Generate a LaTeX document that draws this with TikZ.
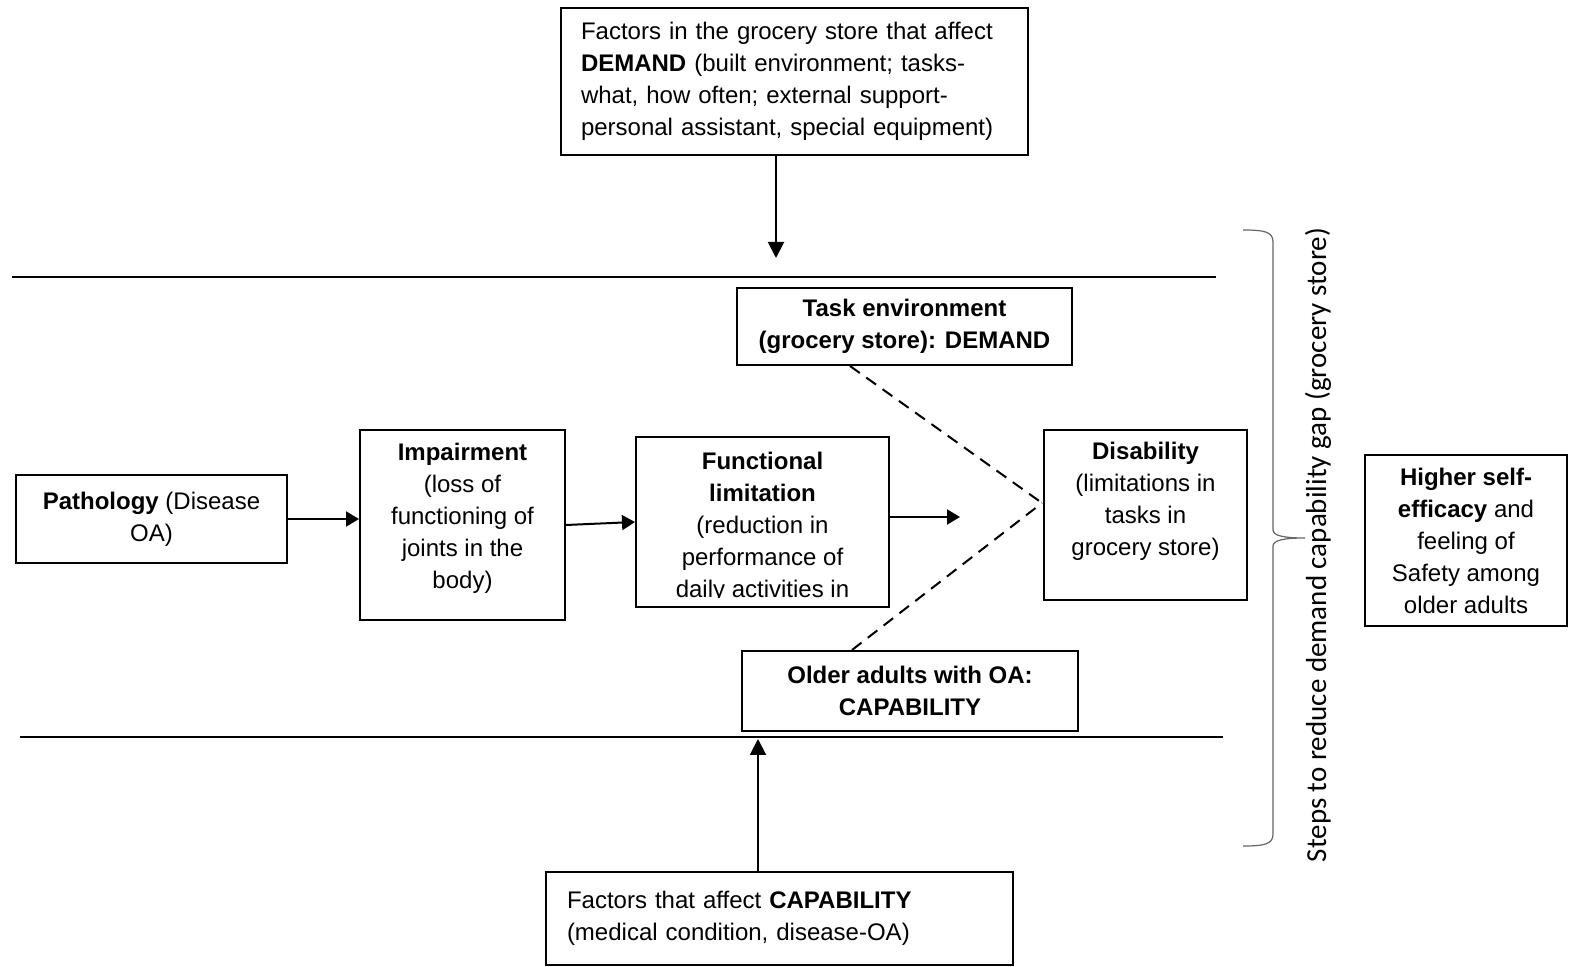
\documentclass[tikz,border=0pt]{standalone}
\usepackage{fontspec}
\setmainfont{Liberation Sans}
\newfontfamily\bracefont{Carlito}
\usetikzlibrary{arrows.meta}
\tikzset{
    stagenode/.style = {
        rectangle,
        draw=black,
        line width=1pt,
        align=center,
        inner sep=0pt,
        font=\fontsize{12}{16}\selectfont
    },
    factornode/.style = {
        stagenode,
        align=left,
        inner xsep=10pt
    },
    flowarrow/.style = {
        -{Triangle[length=6.5pt,width=7.5pt]},
        line width=1pt
    },
    bigflowarrow/.style = {
        -{Triangle[length=8pt,width=8pt]},
        line width=1pt
    },
    linkline/.style = {
        dashed,
        dash pattern=on 6pt off 4pt,
        line width=1pt
    },
    bandline/.style = {
        line width=1pt
    },
    stepsbrace/.style = {
        draw=black!60,
        line width=0.6pt
    }
}

\begin{document}
\begin{tikzpicture}[x=0.5pt, y=-0.5pt]
    \useasboundingbox (0,0) rectangle (1570,967);
    \node [factornode, text width=213.5pt, minimum height=73.5pt] (demandfac) at (794.5,81.5)
        {Factors in the grocery store that affect\\\textbf{DEMAND} (built environment; tasks-\\what, how often; external support-\\personal assistant, special equipment)};
    \node [stagenode, minimum width=167.5pt, minimum height=38.5pt] (taskenv) at (904.5,326.5)
        {\textbf{Task environment}\\\textbf{(grocery store): DEMAND}};
    \node [stagenode, minimum width=135.5pt, minimum height=44pt] (patho) at (151.5,519)
        {\textbf{Pathology} (Disease\\OA)};
    \node [stagenode, minimum width=102.5pt, minimum height=95pt, text depth=9.5pt] (impair) at (462.5,525)
        {\textbf{Impairment}\\(loss of\\functioning of\\joints in the\\body)};
    \node [stagenode, minimum width=126.5pt, minimum height=85pt] (funlim) at (762.5,522) {};
    \begin{scope}
        \clip (funlim.north west) rectangle ([yshift=5pt]funlim.south east);
        \node [stagenode, draw=none, anchor=north] (funtext) at (762.5,451)
            {\textbf{Functional}\\\textbf{limitation}\\(reduction in\\performance of\\daily activities in};
    \end{scope}
    \node [stagenode, minimum width=101.5pt, minimum height=85pt, text depth=16.5pt] (disab) at (1145.5,515)
        {\textbf{Disability}\\(limitations in\\tasks in\\grocery store)};
    \node [stagenode, minimum width=168pt, minimum height=40pt] (older) at (910,691)
        {\textbf{Older adults with OA:}\\\textbf{CAPABILITY}};
    \node [factornode, text width=212.5pt, inner xsep=10.5pt, minimum height=46.5pt] (capfac) at (779.5,918.5)
        {Factors that affect \textbf{CAPABILITY}\\(medical condition, disease-OA)};
    \node [stagenode, minimum width=101pt, minimum height=85.5pt] (selfeff) at (1466,540.5)
        {\textbf{Higher self-}\\\textbf{efficacy} and\\feeling of\\Safety among\\older adults};
    \node [rotate=90, inner sep=0pt, font=\bracefont\fontsize{14.5}{17}\selectfont] (stepsnote) at (1318,545)
        {Steps to reduce demand capability gap (grocery store)};

    \coordinate (demandtip) at (776,258);
    \coordinate (funtip) at (960,517);
    \coordinate (captip) at (758,739);
    \coordinate (meet) at (1042,503);

    \draw [bandline] (12,277) -- (1216,277);
    \draw [bandline] (20,737) -- (1223,737);

    \draw [bigflowarrow] (demandfac.south -| demandtip) -- (demandtip);
    \draw [flowarrow] (patho.east) -- (patho.east -| impair.west);
    \draw [flowarrow] (impair.east) -- (funlim.west);
    \draw [flowarrow] (funlim.east |- funtip) -- (funtip);
    \draw [bigflowarrow] (capfac.north -| captip) -- (captip);
    \draw [linkline] ([xshift=-27.25pt]taskenv.south) -- (meet);
    \draw [linkline] ([xshift=-29pt]older.north) -- (meet);
    \draw [stepsbrace] (1243,230) .. controls (1265,230) and (1273,232) .. (1273,242)
        -- (1273,530) .. controls (1273,536) and (1285,538) .. (1305,538)
        .. controls (1285,538) and (1273,540) .. (1273,546)
        -- (1273,834) .. controls (1273,844) and (1265,846) .. (1243,846);
\end{tikzpicture}
\end{document}
